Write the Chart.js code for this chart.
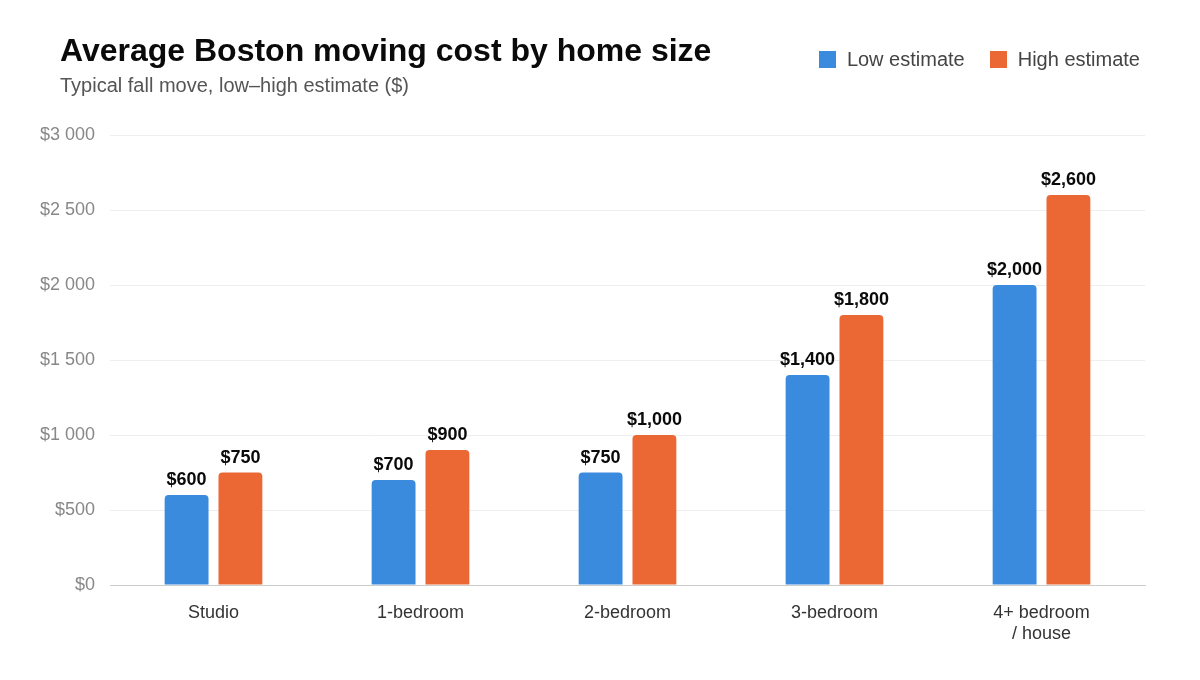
<!DOCTYPE html>
<html>
<head>
<meta charset="utf-8">
<script src="https://cdn.jsdelivr.net/npm/chart.js@4"></script>
<style>
  html, body { margin: 0; padding: 0; background: #fff; }
  #wrap { position: relative; width: 1200px; height: 680px; font-family: "Liberation Sans", Arial, sans-serif; }
  #chart { position: absolute; left: 0; top: 0; }
  .title { position: absolute; left: 60px; top: 32px; font-size: 32px; font-weight: bold; color: #0a0a0a; }
  .subtitle { position: absolute; left: 60px; top: 74px; font-size: 20px; color: #555; }
  .legend { position: absolute; right: 60px; top: 48px; font-size: 20px; color: #444; display: flex; gap: 25px; }
  .legend span.sw { display: inline-block; width: 17px; height: 17px; margin-right: 11px; vertical-align: -2px; }
</style>
</head>
<body>
<div id="wrap">
  <canvas id="chart" width="1200" height="680"></canvas>
  <div class="title">Average Boston moving cost by home size</div>
  <div class="subtitle">Typical fall move, low–high estimate ($)</div>
  <div class="legend">
    <div><span class="sw" style="background:#3a8ade"></span>Low estimate</div>
    <div><span class="sw" style="background:#eb6835"></span>High estimate</div>
  </div>
</div>
<script>
// home sizes and the low / high cost estimates
const categories = ['Studio', '1-bedroom', '2-bedroom', '3-bedroom', ['4+ bedroom', '/ house']];
const lowEstimate = [600, 700, 750, 1400, 2000];
const highEstimate = [750, 900, 1000, 1800, 2600];
const yTicks = [0, 500, 1000, 1500, 2000, 2500, 3000];

const blue = '#3a8ade';
const orange = '#eb6835';
const font = '"Liberation Sans", Arial, sans-serif';

function axisMoney(v) {
    return '$' + String(v).replace(/\B(?=(\d{3})+(?!\d))/g, ' ');
}
function labelMoney(v) {
    return '$' + v.toLocaleString('en-US');
}

// draws the value above each bar
const valueLabels = {
    id: 'valueLabels',
    afterDatasetsDraw(chart) {
        const ctx = chart.ctx;
        ctx.save();
        ctx.font = 'bold 18px ' + font;
        ctx.fillStyle = '#0a0a0a';
        ctx.textAlign = 'center';
        ctx.textBaseline = 'alphabetic';
        chart.data.datasets.forEach(function(ds, i) {
            chart.getDatasetMeta(i).data.forEach(function(bar, j) {
                ctx.fillText(labelMoney(ds.data[j]), bar.x, bar.y - 10);
            });
        });
        ctx.restore();
    }
};

new Chart(document.getElementById('chart'), {
    type: 'bar',
    data: {
        labels: categories,
        datasets: [
            { label: 'Low estimate', data: lowEstimate, backgroundColor: blue },
            { label: 'High estimate', data: highEstimate, backgroundColor: orange }
        ]
    },
    options: {
        responsive: false,
        animation: false,
        devicePixelRatio: 1,
        categoryPercentage: 0.52,
        barPercentage: 0.815,
        borderRadius: { topLeft: 4, topRight: 4 },
        borderSkipped: 'start',
        layout: { padding: { top: 135, right: 55, bottom: 20, left: 0 } },
        plugins: {
            legend: { display: false },
            tooltip: { enabled: false }
        },
        scales: {
            x: {
                grid: { display: false, drawTicks: false },
                border: { color: '#cccccc', width: 1 },
                ticks: {
                    color: '#333',
                    padding: 17,
                    font: { family: font, size: 18, lineHeight: 1.2 }
                },
                afterFit: function(scale) { scale.height = 75; }
            },
            y: {
                min: 0,
                max: 3000,
                afterBuildTicks: function(scale) {
                    scale.ticks = yTicks.map(function(v) { return { value: v }; });
                },
                grid: { color: '#eeeeee', drawTicks: false },
                border: { display: false },
                ticks: {
                    color: '#888',
                    padding: 15,
                    font: { family: font, size: 18 },
                    callback: function(v) { return axisMoney(v); }
                },
                afterFit: function(scale) { scale.width = 110; }
            }
        }
    },
    plugins: [valueLabels]
});
</script>
</body>
</html>
